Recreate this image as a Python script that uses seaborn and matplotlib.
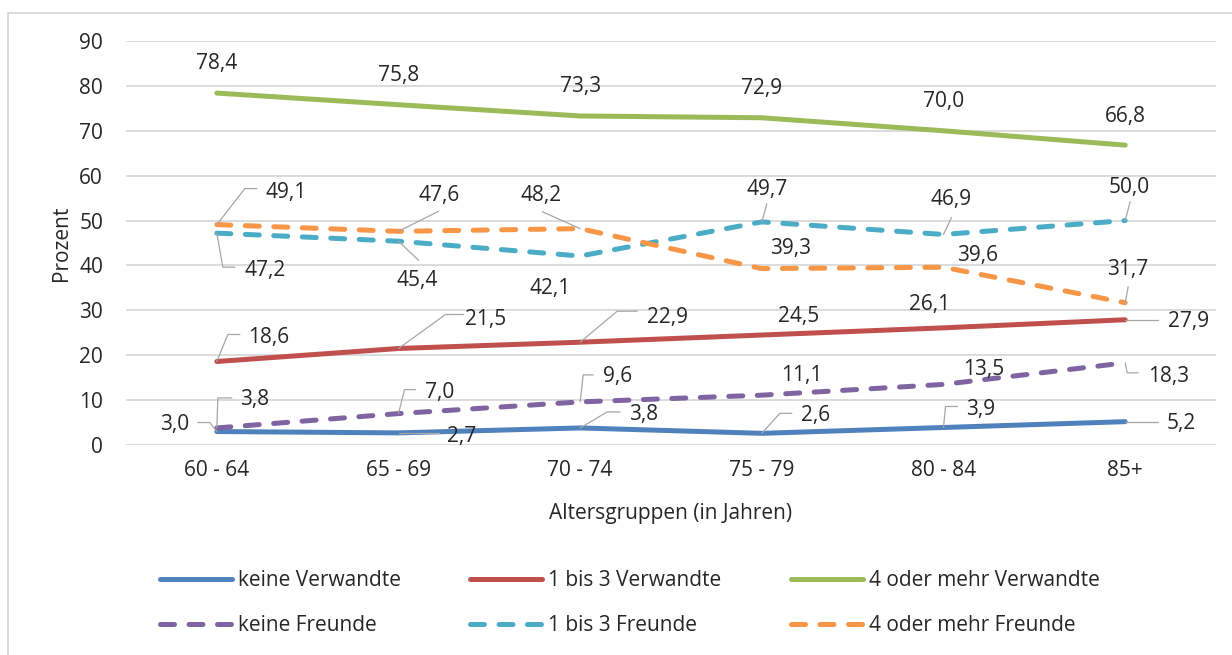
import matplotlib
matplotlib.use("Agg")
import matplotlib.pyplot as plt
from matplotlib.lines import Line2D
from matplotlib.patches import Rectangle
import pandas as pd
import seaborn as sns

altersgruppen = ["60 - 64", "65 - 69", "70 - 74", "75 - 79", "80 - 84", "85+"]
keine_verwandte = [3.0, 2.7, 3.8, 2.6, 3.9, 5.2]
verwandte_1_3 = [18.6, 21.5, 22.9, 24.5, 26.1, 27.9]
verwandte_4 = [78.4, 75.8, 73.3, 72.9, 70.0, 66.8]
keine_freunde = [3.8, 7.0, 9.6, 11.1, 13.5, 18.3]
freunde_1_3 = [47.2, 45.4, 42.1, 49.7, 46.9, 50.0]
freunde_4 = [49.1, 47.6, 48.2, 39.3, 39.6, 31.7]

gruppen = ["keine Verwandte", "1 bis 3 Verwandte", "4 oder mehr Verwandte",
           "keine Freunde", "1 bis 3 Freunde", "4 oder mehr Freunde"]
werte = [keine_verwandte, verwandte_1_3, verwandte_4,
         keine_freunde, freunde_1_3, freunde_4]
farben = ["#4F81BD", "#C0504D", "#9BBB59", "#8064A2", "#4BACC6", "#F79646"]
gestrichelt = [False, False, False, True, True, True]

rows = []
for g, vals in zip(gruppen, werte):
    for i, v in enumerate(vals):
        rows.append({"idx": i, "Prozent": v, "Gruppe": g})
df = pd.DataFrame(rows)

sns.set_theme(style="white")
plt.rcParams["font.family"] = ["Open Sans", "DejaVu Sans"]
FS = 15
TXT = "#262626"
GRID = "#D9D9D9"
LW = 3.6
DASH = (2.8, 2.9)

fig = plt.figure(figsize=(12.32, 6.55), dpi=100)
ax = fig.add_axes([126 / 1232, 1 - 445 / 655, 1090 / 1232, 404 / 655])

pal = dict(zip(gruppen, farben))
dashes = {g: (DASH if d else "") for g, d in zip(gruppen, gestrichelt)}
sns.lineplot(data=df, x="idx", y="Prozent", hue="Gruppe", style="Gruppe",
             hue_order=gruppen, style_order=gruppen, palette=pal, dashes=dashes,
             linewidth=LW, legend=False, ax=ax, sort=False)
for ln in ax.lines:
    ln.set_dash_capstyle("round")
    ln.set_solid_capstyle("round")

ax.set_xlim(-0.5, 5.5)
ax.set_ylim(0, 90)
ax.set_yticks(range(0, 91, 10))
ax.set_xticks(range(len(altersgruppen)), labels=altersgruppen)
for s in ax.spines.values():
    s.set_visible(False)
ax.yaxis.grid(True, color=GRID, lw=1.3)
ax.xaxis.grid(False)
ax.set_axisbelow(True)
ax.tick_params(axis="y", length=0, pad=16.5, labelsize=FS, labelcolor=TXT)
ax.tick_params(axis="x", length=0, pad=11, labelsize=FS, labelcolor=TXT)
ax.set_xlabel("Altersgruppen (in Jahren)", fontsize=FS, color=TXT, labelpad=16)
ax.set_ylabel("Prozent", fontsize=FS, color=TXT, labelpad=5)

# label offset and leader knots in pixels, relative to the data point
lbl = {
    "keine Verwandte": [((-42, 9), [(-7, 9), (-19, 9)]), ((63, -2), [(40, 0)]),
                        ((63, 15), [(27, 16), (40, 16)]), ((54, 20), [(18, 20), (30, 20)]),
                        ((37, 20), [(2, 21), (14, 21)]), ((56, 0), [(33, 0)])],
    "1 bis 3 Verwandte": [((52, 26), [(11, 27), (23, 27)]), ((87, 31), [(47, 34), (65, 34)]),
                          ((87, 27), [(37, 31), (57, 31)]), ((37, 20), []),
                          ((-14, 25), []), ((63, 0), [(33, 0)])],
    "4 oder mehr Verwandte": [((0, 31), [])] * 6,
    "keine Freunde": [((38, 30), [(1, 30), (15, 30)]), ((41, 23), [(6, 24), (17, 24)]),
                      ((37, 27), [(3, 27), (13, 27)]), ((40, 22), []),
                      ((40, 17), []), ((43, -12), [(2, -10), (13, -10)])],
    "1 bis 3 Freunde": [((48, -35), [(6, -34), (18, -34)]), ((19, -37), [(20, -19)]),
                        ((-30, -31), []), ((5, 34), [(5, 18)]),
                        ((8, 37), [(8, 17)]), ((4, 35), [(5, 19)])],
    "4 oder mehr Freunde": [((69, 34), [(28, 36), (40, 36)]), ((41, 38), [(40, 20)]),
                            ((-39, 35), [(-38, 17)]), ((29, 22), []),
                            ((34, 14), []), ((3, 35), [(3, 16)])],
}

inv = ax.transData.inverted()
for g, vals in zip(gruppen, werte):
    for i, v in enumerate(vals):
        (tx, ty), knots = lbl[g][i]
        if knots:
            px, py = ax.transData.transform((i, v))
            pts = [(px, py)] + [(px + dx, py + dy) for dx, dy in knots]
            dpts = inv.transform(pts)
            ax.plot(dpts[:, 0], dpts[:, 1], color="#A6A6A6", lw=0.9,
                    clip_on=False, zorder=5)
        ax.annotate(f"{v:.1f}".replace(".", ","), xy=(i, v), xytext=(tx, ty - 7.4),
                    textcoords="offset pixels", ha="center", va="baseline",
                    fontsize=FS, color=TXT, zorder=6, annotation_clip=False)

handles = [Line2D([], [], color=c, lw=LW, dashes=(DASH if d else (None, None)),
                  dash_capstyle="round", solid_capstyle="round")
           for c, d in zip(farben, gestrichelt)]
order = [0, 3, 1, 4, 2, 5]
fig.legend([handles[k] for k in order], [gruppen[k] for k in order], ncol=3,
           loc="center left", bbox_to_anchor=(160 / 1232, 1 - 603 / 655),
           frameon=False, fontsize=FS, handlelength=3.45, handletextpad=0.3,
           columnspacing=3.32, labelspacing=1.15, borderaxespad=0, borderpad=0,
           labelcolor=TXT)

fig.add_artist(Rectangle((8 / 1232, -0.2), 1.5, 1.2 - 12.5 / 655, transform=fig.transFigure,
                         fill=False, edgecolor=GRID, lw=1.3))

fig.savefig("out.png", dpi=100, facecolor="white")
